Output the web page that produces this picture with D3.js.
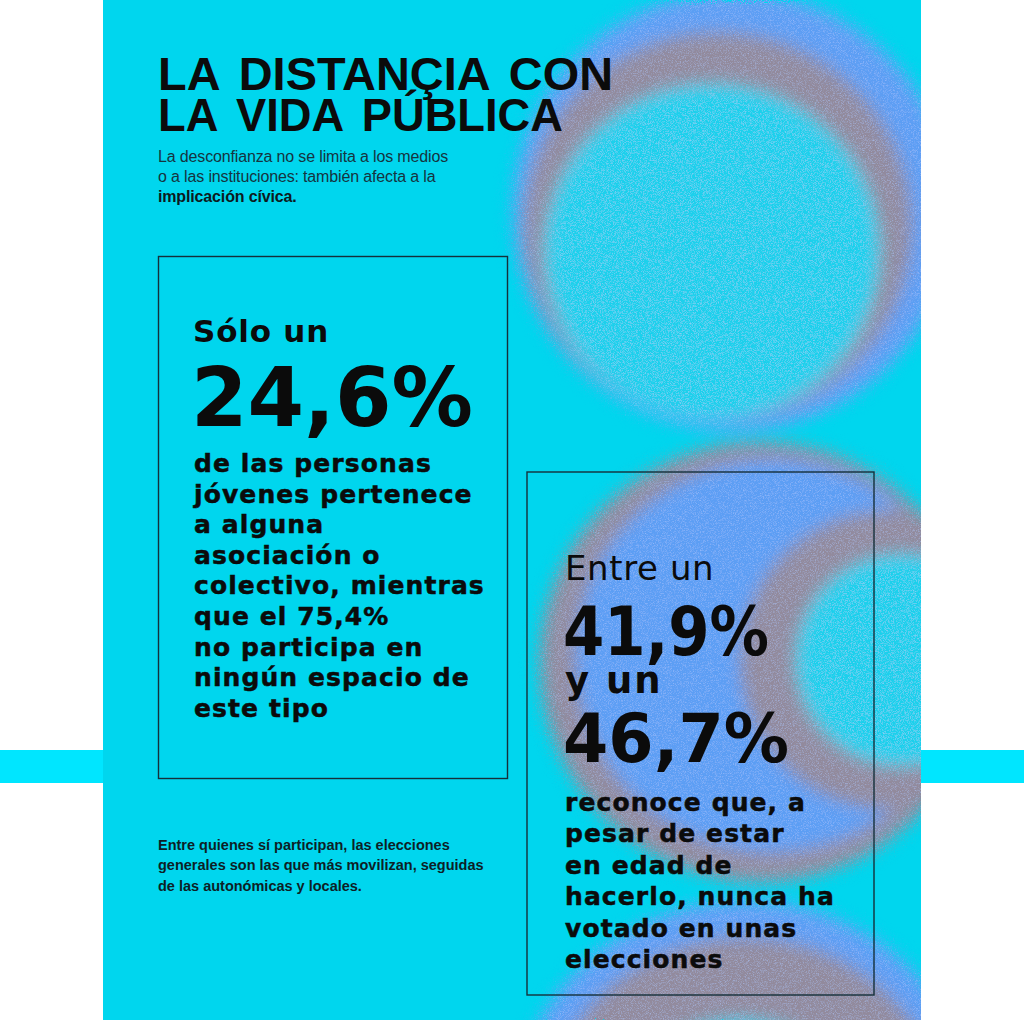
<!DOCTYPE html>
<html>
<head>
<meta charset="utf-8">
<script src="https://cdn.jsdelivr.net/npm/d3@7"></script>
<style>
  html, body { margin: 0; background: #fff; }
  svg { display: block; }
</style>
</head>
<body>
<div id="chart"></div>
<script>
// ---- data ----
const titleLines = ["LA DISTANÇIA CON", "LA VIDA PÚBLICA"];
const introLines = ["La desconfianza no se limita a los medios", "o a las instituciones: también afecta a la"];
const introBold = "implicación cívica.";

const shareInAssociation = 24.6;
const shareNotInAssociation = 75.4;
const neverVotedRange = [41.9, 46.7];

const noteLines = [
  "Entre quienes sí participan, las elecciones",
  "generales son las que más movilizan, seguidas",
  "de las autonómicas y locales."
];

// spanish number format: 24,6%
const es = d3.formatLocale({ decimal: ",", thousands: ".", grouping: [3], currency: ["", " €"] });
const pct = v => es.format(".1f")(v) + "%";

const associationLines = [
  "de las personas", "jóvenes pertenece", "a alguna", "asociación o",
  "colectivo, mientras", "que el " + pct(shareNotInAssociation),
  "no participa en", "ningún espacio de", "este tipo"
];
const votingLines = [
  "reconoce que, a", "pesar de estar", "en edad de",
  "hacerlo, nunca ha", "votado en unas", "elecciones"
];

// ---- layout / style ----
const W = 1024, H = 1024;
const panel = { x: 103, y: 0, w: 818, h: 1020 };
const cyan = "#00d6ee", strip = "#00e6ff";
const blue = "#5c9ef4", mauve = "#928a9c", inner = "#1fd0ec";
const ink = "#0b0b0b";
const wide = "'DejaVu Sans', sans-serif";
const grot = "'Liberation Sans', Arial, sans-serif";

// decorative grainy spheres: each a stack of discs, drawn back to front
const spheres = [
  [ { cx: 733, cy: 211, r: 220, fill: blue },
    { cx: 718, cy: 226, r: 194, fill: mauve },
    { cx: 712, cy: 252, r: 168, fill: inner } ],
  [ { cx: 760, cy: 662, r: 220, fill: mauve },
    { cx: 772, cy: 656, r: 196, fill: blue },
    { cx: 890, cy: 660, r: 150, fill: mauve },
    { cx: 902, cy: 660, r: 106, fill: inner } ],
  [ { cx: 745, cy: 1135, r: 235, fill: blue },
    { cx: 745, cy: 1145, r: 208, fill: mauve },
    { cx: 740, cy: 1170, r: 150, fill: inner } ]
];

const svg = d3.select("#chart").append("svg")
  .attr("width", W)
  .attr("height", H)
  .attr("viewBox", [0, 0, W, H]);

const defs = svg.append("defs");

defs.append("clipPath").attr("id", "panel-clip")
  .append("rect")
  .attr("x", panel.x).attr("y", panel.y)
  .attr("width", panel.w).attr("height", panel.h);

// soft edges broken up by noise, like a dithered print
const grain = defs.append("filter").attr("id", "grain")
  .attr("filterUnits", "userSpaceOnUse")
  .attr("x", 0).attr("y", 0).attr("width", W).attr("height", H);
grain.append("feGaussianBlur").attr("in", "SourceGraphic").attr("stdDeviation", 8).attr("result", "soft");
grain.append("feTurbulence").attr("type", "fractalNoise").attr("baseFrequency", 0.9)
  .attr("numOctaves", 2).attr("seed", 7).attr("result", "noise");
grain.append("feDisplacementMap").attr("in", "soft").attr("in2", "noise").attr("scale", 20)
  .attr("xChannelSelector", "R").attr("yChannelSelector", "G").attr("result", "disp");
grain.append("feTurbulence").attr("type", "fractalNoise").attr("baseFrequency", 1.4)
  .attr("numOctaves", 1).attr("seed", 3).attr("result", "speck");
grain.append("feColorMatrix").attr("in", "speck").attr("type", "matrix")
  .attr("values", "0 0 0 0 0.45  0 0 0 0 0.6  0 0 0 0 1  0 0 0 -1.4 0.75")
  .attr("result", "speckCol");
grain.append("feComposite").attr("in", "speckCol").attr("in2", "disp").attr("operator", "in").attr("result", "speckIn");
const merge = grain.append("feMerge");
merge.append("feMergeNode").attr("in", "disp");
merge.append("feMergeNode").attr("in", "speckIn");

// ---- background ----
svg.append("rect").attr("width", W).attr("height", H).attr("fill", "#fff");
svg.append("rect").attr("x", 0).attr("y", 750).attr("width", W).attr("height", 33).attr("fill", strip);
svg.append("rect")
  .attr("x", panel.x).attr("y", panel.y)
  .attr("width", panel.w).attr("height", panel.h)
  .attr("fill", cyan);

const deco = svg.append("g").attr("clip-path", "url(#panel-clip)")
  .append("g").attr("filter", "url(#grain)");

deco.selectAll("g.sphere")
  .data(spheres)
  .join("g")
  .attr("class", "sphere")
  .selectAll("circle")
  .data(d => d)
  .join("circle")
  .attr("cx", d => d.cx)
  .attr("cy", d => d.cy)
  .attr("r", d => d.r)
  .attr("fill", d => d.fill);

// ---- title and intro ----
const title = svg.append("g").attr("font-family", grot).attr("font-weight", 700)
  .attr("font-size", 47).attr("word-spacing", 7).attr("fill", ink);
const titleWidths = [455, 405];
title.selectAll("text")
  .data(titleLines)
  .join("text")
  .attr("x", 158)
  .attr("y", (d, i) => 90 + i * 41)
  .attr("textLength", (d, i) => titleWidths[i])
  .attr("lengthAdjust", "spacingAndGlyphs")
  .text(d => d);

const intro = svg.append("g").attr("font-family", grot).attr("font-size", 16)
  .attr("letter-spacing", -0.15).attr("fill", "#163440");
intro.selectAll("text")
  .data(introLines)
  .join("text")
  .attr("x", 158)
  .attr("y", (d, i) => 162 + i * 20)
  .text(d => d);
intro.append("text")
  .attr("x", 158).attr("y", 202)
  .attr("font-weight", 700).attr("fill", "#0d1a20")
  .text(introBold);

// ---- boxes ----
const frame = (x, y, w, h) => svg.append("rect")
  .attr("x", x).attr("y", y).attr("width", w).attr("height", h)
  .attr("fill", "none").attr("stroke", "#15303a").attr("stroke-width", 1.4);

frame(158.5, 256.5, 349, 522);
frame(527, 472, 347, 523);

// box 1
const box1 = svg.append("g").attr("font-family", wide).attr("fill", ink);
box1.append("text").attr("x", 193).attr("y", 342)
  .attr("font-size", 31).attr("font-weight", 700).attr("letter-spacing", 0.8)
  .text("Sólo un");
box1.append("text").attr("x", 191).attr("y", 426)
  .attr("font-size", 82).attr("font-weight", 700)
  .attr("textLength", 282).attr("lengthAdjust", "spacingAndGlyphs")
  .text(pct(shareInAssociation));
box1.append("g").attr("font-size", 25).attr("font-weight", 700).attr("letter-spacing", 1.1)
  .attr("stroke", ink).attr("stroke-width", 0.5)
  .selectAll("text")
  .data(associationLines)
  .join("text")
  .attr("x", 194)
  .attr("y", (d, i) => 472 + i * 30.6)
  .text(d => d);

// box 2
const box2 = svg.append("g").attr("font-family", wide).attr("fill", ink);
box2.append("text").attr("x", 565).attr("y", 580)
  .attr("font-size", 34).attr("letter-spacing", 0.6)
  .text("Entre un");
box2.append("text").attr("x", 563).attr("y", 655)
  .attr("font-size", 68).attr("font-weight", 700)
  .attr("textLength", 206).attr("lengthAdjust", "spacingAndGlyphs")
  .text(pct(neverVotedRange[0]));
box2.append("text").attr("x", 565).attr("y", 693)
  .attr("font-size", 37).attr("font-weight", 700).attr("letter-spacing", 2)
  .text("y un");
box2.append("text").attr("x", 563).attr("y", 762)
  .attr("font-size", 68).attr("font-weight", 700)
  .attr("textLength", 226).attr("lengthAdjust", "spacingAndGlyphs")
  .text(pct(neverVotedRange[1]));
box2.append("g").attr("font-size", 25).attr("font-weight", 700).attr("letter-spacing", 1.1)
  .attr("stroke", ink).attr("stroke-width", 0.5)
  .selectAll("text")
  .data(votingLines)
  .join("text")
  .attr("x", 565)
  .attr("y", (d, i) => 810.5 + i * 31.5)
  .text(d => d);

// ---- footnote ----
svg.append("g").attr("font-family", grot).attr("font-size", 14.5).attr("font-weight", 700)
  .attr("letter-spacing", 0).attr("fill", "#0d1f26")
  .selectAll("text")
  .data(noteLines)
  .join("text")
  .attr("x", 158)
  .attr("y", (d, i) => 850 + i * 20.3)
  .text(d => d);
</script>
</body>
</html>
